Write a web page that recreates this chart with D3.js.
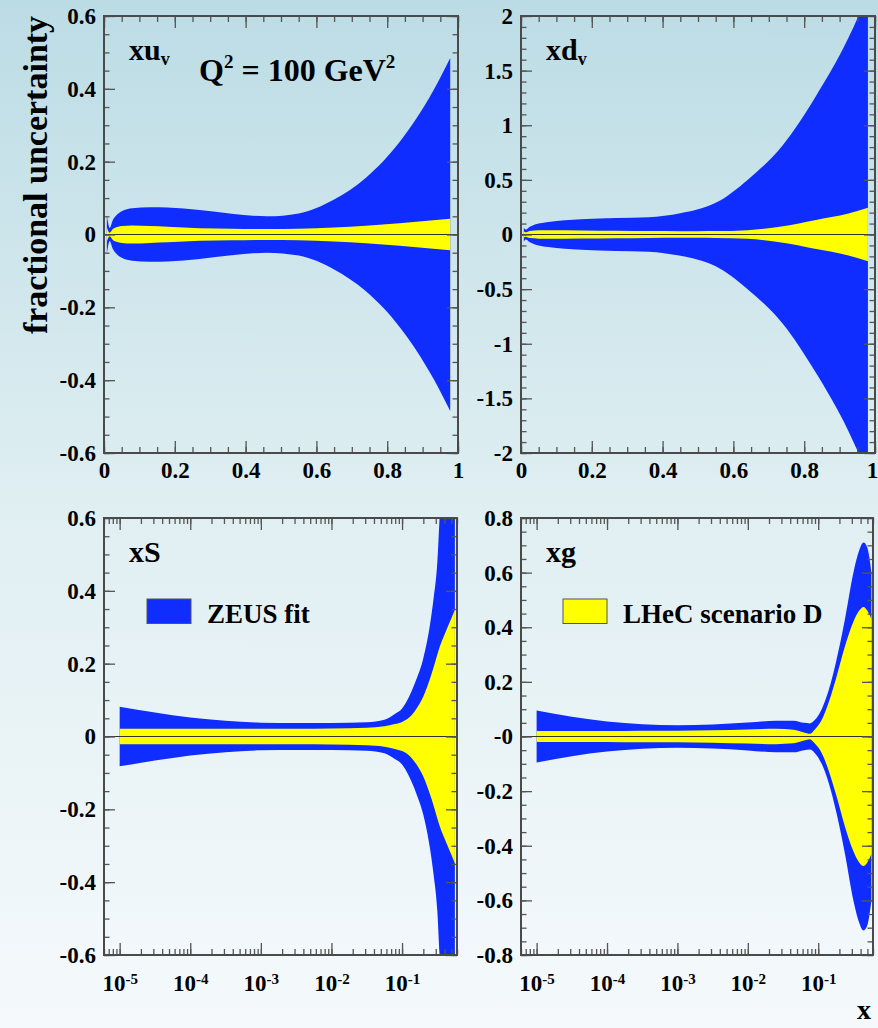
<!DOCTYPE html>
<html>
<head>
<meta charset="utf-8">
<script src="https://cdn.jsdelivr.net/npm/d3@7"></script>
<style>
  body { margin: 0; }
  svg text { font-family: "Liberation Serif", "Times New Roman", serif; font-weight: bold; fill: #000; }
</style>
</head>
<body>
<div id="chart"></div>
<script>
// Datos (semi-anchura de la banda de incertidumbre)

// xu_v, eje x lineal
const uvX      = [0.008, 0.011, 0.016, 0.025, 0.035, 0.05, 0.08, 0.13, 0.18, 0.27, 0.36, 0.46, 0.55, 0.65, 0.74, 0.835, 0.93, 0.978];
const uvZeus   = [0.052, 0.035, 0.018, 0.04, 0.053, 0.064, 0.072, 0.075, 0.074, 0.067, 0.057, 0.05, 0.058, 0.096, 0.156, 0.254, 0.395, 0.485];
const uvLhec   = [0.02, 0.012, 0.005, 0.015, 0.02, 0.023, 0.025, 0.023, 0.021, 0.017, 0.016, 0.015, 0.016, 0.019, 0.024, 0.031, 0.039, 0.043];

// xd_v, eje x lineal
const dvX      = [0.008, 0.013, 0.025, 0.05, 0.077, 0.17, 0.27, 0.36, 0.45, 0.5, 0.55, 0.64, 0.74, 0.83, 0.925, 0.98];
const dvZeus   = [0.065, 0.045, 0.07, 0.1, 0.115, 0.14, 0.152, 0.158, 0.195, 0.23, 0.29, 0.5, 0.82, 1.25, 1.8, 2.2];
const dvLhec   = [0.03, 0.02, 0.033, 0.038, 0.04, 0.037, 0.034, 0.031, 0.03, 0.03, 0.031, 0.04, 0.076, 0.131, 0.192, 0.244];

// xS, eje x logarítmico
const sX       = [1e-5, 3.16e-5, 1e-4, 3.16e-4, 1e-3, 3.16e-3, 0.01, 0.0316, 0.0562, 0.079, 0.1, 0.126, 0.158, 0.2, 0.25, 0.28, 0.316, 0.34, 0.4, 0.5, 0.56];
const sZeus    = [0.082, 0.066, 0.052, 0.043, 0.038, 0.037, 0.037, 0.039, 0.046, 0.062, 0.077, 0.11, 0.155, 0.215, 0.31, 0.38, 0.48, 0.6, 0.85, 1.1, 1.3];
const sLhec    = [0.021, 0.021, 0.021, 0.021, 0.021, 0.021, 0.022, 0.024, 0.028, 0.034, 0.04, 0.052, 0.075, 0.11, 0.16, 0.19, 0.225, 0.245, 0.28, 0.325, 0.348];

// xg, eje x logarítmico
const gX       = [1e-5, 3.16e-5, 1e-4, 3.16e-4, 1e-3, 3.16e-3, 0.01, 0.025, 0.0447, 0.063, 0.076, 0.089, 0.112, 0.141, 0.178, 0.24, 0.316, 0.38, 0.44, 0.5, 0.57];
const gZeus    = [0.095, 0.072, 0.055, 0.045, 0.041, 0.044, 0.051, 0.058, 0.058, 0.05, 0.048, 0.06, 0.1, 0.17, 0.27, 0.43, 0.6, 0.68, 0.71, 0.69, 0.6];
const gLhec    = [0.02, 0.02, 0.02, 0.021, 0.021, 0.023, 0.026, 0.028, 0.025, 0.015, 0.01, 0.025, 0.06, 0.125, 0.21, 0.33, 0.42, 0.46, 0.474, 0.46, 0.43];

// Marcas y etiquetas de los ejes
const linTicks   = [0, 0.2, 0.4, 0.6, 0.8, 1];
const linLabels  = ["0", "0.2", "0.4", "0.6", "0.8", "1"];
const logTicks   = [1e-5, 1e-4, 1e-3, 1e-2, 1e-1];
const logExps    = ["-5", "-4", "-3", "-2", "-1"];
const y06Ticks   = [-0.6, -0.4, -0.2, 0, 0.2, 0.4, 0.6];
const y06Labels  = ["-0.6", "-0.4", "-0.2", "0", "0.2", "0.4", "0.6"];
const y2Ticks    = [-2, -1.5, -1, -0.5, 0, 0.5, 1, 1.5, 2];
const y2Labels   = ["-2", "-1.5", "-1", "-0.5", "0", "0.5", "1", "1.5", "2"];
const y08Ticks   = [-0.8, -0.6, -0.4, -0.2, 0, 0.2, 0.4, 0.6, 0.8];
const y08Labels  = ["-0.8", "-0.6", "-0.4", "-0.2", "-0", "0.2", "0.4", "0.6", "0.8"];

const BLUE = "#0f2dff";
const YELLOW = "#ffff00";
const AXIS = "#555";

const W = 878, H = 1028;
const svg = d3.select("#chart").append("svg")
    .attr("width", W)
    .attr("height", H);

// Fondo degradado
const grad = svg.append("defs").append("linearGradient")
    .attr("id", "bg").attr("x1", 0).attr("y1", 0).attr("x2", 0).attr("y2", 1);
grad.append("stop").attr("offset", "0%").attr("stop-color", "#bcdce5");
grad.append("stop").attr("offset", "50%").attr("stop-color", "#e0eff2");
grad.append("stop").attr("offset", "100%").attr("stop-color", "#f5f9fc");
svg.append("rect").attr("width", W).attr("height", H).attr("fill", "url(#bg)");

// Dibuja un panel
function panel(p) {
    const x = p.log
        ? d3.scaleLog().domain([6e-6, 0.6]).range([p.left, p.right])
        : d3.scaleLinear().domain([0, 1]).range([p.left, p.right]);
    const y = d3.scaleLinear().domain(p.yDomain).range([p.bottom, p.top]);
    const g = svg.append("g");

    g.append("clipPath").attr("id", "clip" + p.id)
        .append("rect")
        .attr("x", p.left).attr("y", p.top)
        .attr("width", p.right - p.left).attr("height", p.bottom - p.top);

    // Bandas
    const area = d3.area()
        .x(d => x(d[0]))
        .y0(d => y(-d[1]))
        .y1(d => y(d[1]))
        .curve(d3.curveMonotoneX);

    g.append("path")
        .datum(d3.zip(p.xs, p.zeus))
        .attr("d", area)
        .attr("fill", BLUE)
        .attr("clip-path", `url(#clip${p.id})`);
    g.append("path")
        .datum(d3.zip(p.xs, p.lhec))
        .attr("d", area)
        .attr("fill", YELLOW)
        .attr("clip-path", `url(#clip${p.id})`);

    // Línea en cero
    g.append("line")
        .attr("x1", p.left).attr("x2", p.right)
        .attr("y1", y(0)).attr("y2", y(0))
        .attr("stroke", "#333").attr("stroke-width", 1);

    // Ejes x (abajo con etiquetas, arriba sin ellas)
    const xMinor = p.log ? x.ticks() : x.ticks(20);
    const xMajor = p.log ? logTicks : linTicks;
    [["bottom", p.bottom, d3.axisBottom], ["top", p.top, d3.axisTop]].forEach(([side, yy, ax]) => {
        g.append("g")
            .attr("transform", `translate(0,${yy})`)
            .call(ax(x).tickValues(xMinor).tickSize(-6).tickFormat(""))
            .call(s => s.select(".domain").remove());
        const major = g.append("g")
            .attr("transform", `translate(0,${yy})`)
            .call(ax(x).tickValues(xMajor).tickSize(-12)
                .tickPadding(p.log ? 20 : 9)
                .tickFormat((d, i) => side === "bottom" && !p.log ? linLabels[i] : ""))
            .call(s => s.select(".domain").remove());
        if (side === "bottom" && p.log) {
            major.selectAll(".tick text").each(function(d, i) {
                const t = d3.select(this);
                t.append("tspan").text("10");
                t.append("tspan").attr("dy", "-0.5em").attr("font-size", "15px").text(logExps[i]);
            });
        }
        if (side === "bottom" && !p.log && p.right > W - 10) {
            // la última etiqueta queda pegada al borde de la imagen
            major.selectAll(".tick text").filter(d => d === 1).attr("dx", -3);
        }
    });

    // Ejes y (izquierda con etiquetas, derecha sin ellas)
    const nMinor = Math.round((p.yDomain[1] - p.yDomain[0]) / p.yMinorStep);
    [["left", p.left, d3.axisLeft], ["right", p.right, d3.axisRight]].forEach(([side, xx, ax]) => {
        g.append("g")
            .attr("transform", `translate(${xx},0)`)
            .call(ax(y).ticks(nMinor).tickSize(-5.5).tickFormat(""))
            .call(s => s.select(".domain").remove());
        g.append("g")
            .attr("transform", `translate(${xx},0)`)
            .call(ax(y).tickValues(p.yTicks).tickSize(-11).tickPadding(8)
                .tickFormat((d, i) => side === "left" ? p.yLabels[i] : ""))
            .call(s => s.select(".domain").remove());
    });

    g.selectAll(".tick line").attr("stroke", AXIS).attr("stroke-width", 1.3);
    g.selectAll(".tick text").style("font-size", "23px");

    // Marco
    g.append("rect")
        .attr("x", p.left).attr("y", p.top)
        .attr("width", p.right - p.left).attr("height", p.bottom - p.top)
        .attr("fill", "none").attr("stroke", "#4a4a4a").attr("stroke-width", 2);

    // Nombre de la distribución
    const lab = g.append("text")
        .attr("x", p.left + 25).attr("y", p.top + 44)
        .style("font-size", "30px");
    lab.append("tspan").text(p.name);
    if (p.sub) lab.append("tspan").attr("dy", 5).style("font-size", "18px").text(p.sub);

    return { g, x, y };
}

const p1 = panel({ id: 1, left: 104, right: 458, top: 16, bottom: 453, log: false,
    yDomain: [-0.6, 0.6], yMinorStep: 0.05, yTicks: y06Ticks, yLabels: y06Labels,
    xs: uvX, zeus: uvZeus, lhec: uvLhec, name: "xu", sub: "v" });
const p2 = panel({ id: 2, left: 521, right: 875, top: 16, bottom: 453, log: false,
    yDomain: [-2, 2], yMinorStep: 0.1, yTicks: y2Ticks, yLabels: y2Labels,
    xs: dvX, zeus: dvZeus, lhec: dvLhec, name: "xd", sub: "v" });
const p3 = panel({ id: 3, left: 104, right: 457, top: 518, bottom: 955, log: true,
    yDomain: [-0.6, 0.6], yMinorStep: 0.05, yTicks: y06Ticks, yLabels: y06Labels,
    xs: sX, zeus: sZeus, lhec: sLhec, name: "xS" });
const p4 = panel({ id: 4, left: 521, right: 873, top: 518, bottom: 955, log: true,
    yDomain: [-0.8, 0.8], yMinorStep: 0.05, yTicks: y08Ticks, yLabels: y08Labels,
    xs: gX, zeus: gZeus, lhec: gLhec, name: "xg" });

// Q^2
const q = svg.append("text").attr("x", 199).attr("y", 81).style("font-size", "32px");
q.append("tspan").text("Q");
q.append("tspan").attr("dy", -13).style("font-size", "19px").text("2");
q.append("tspan").attr("dy", 13).text(" = 100 GeV");
q.append("tspan").attr("dy", -13).style("font-size", "19px").text("2");

// Leyendas
function legend(x0, y0, color, label) {
    svg.append("rect")
        .attr("x", x0).attr("y", y0).attr("width", 44).attr("height", 24.5)
        .attr("fill", color).attr("stroke", "#555").attr("stroke-width", 1);
    svg.append("text")
        .attr("x", x0 + 60).attr("y", y0 + 23.5)
        .style("font-size", "27px")
        .text(label);
}
legend(147, 599, BLUE, "ZEUS fit");
legend(563, 599, YELLOW, "LHeC scenario D");

// Títulos de los ejes
svg.append("text")
    .attr("transform", "translate(47,175) rotate(-90)")
    .attr("text-anchor", "middle")
    .style("font-size", "34px")
    .text("fractional uncertainty");

svg.append("text")
    .attr("x", 857).attr("y", 1019)
    .style("font-size", "28px")
    .text("x");
</script>
</body>
</html>
